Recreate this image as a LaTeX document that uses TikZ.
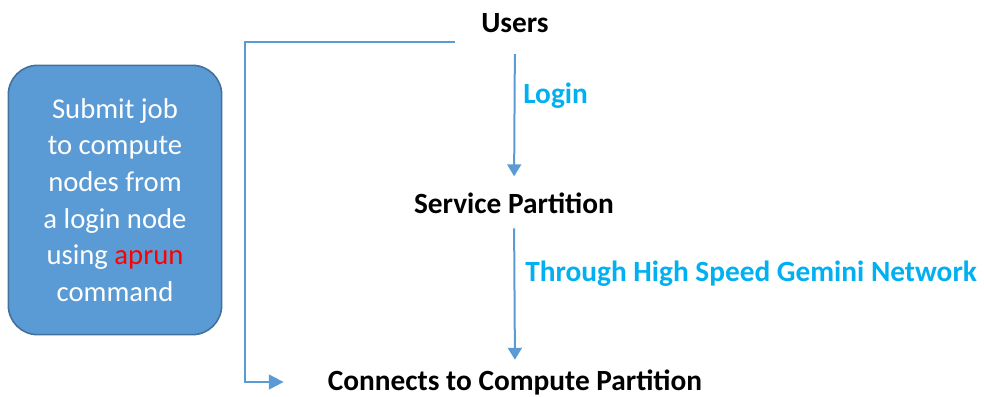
\documentclass[tikz,border=0pt]{standalone}
\usepackage{fontspec}
\setmainfont{Carlito}
\usetikzlibrary{arrows.meta,calc}
\definecolor{boxfill}{HTML}{5B9BD5}
\definecolor{boxline}{HTML}{41719C}
\definecolor{arrcol}{HTML}{5B9BD5}
\definecolor{lblcol}{HTML}{00B0F0}
\begin{document}
\begin{tikzpicture}[x=0.75pt,y=-0.75pt,
  arr/.style={draw=arrcol,line width=1.5pt,-{Triangle[length=9pt,width=10.5pt]}},
  elbow/.style={draw=arrcol,line width=1.5pt,-{Triangle[length=11pt,width=11pt]}},
  title/.style={font=\fontsize{22}{26}\selectfont\bfseries,inner sep=0pt,text=black},
  lbl/.style={font=\fontsize{22}{26}\selectfont\bfseries,inner sep=0pt,text=lblcol,anchor=west},
  bluebox/.style={draw=boxline,line width=1.2pt,fill=boxfill,rounded corners=22pt,
    minimum width=160pt,minimum height=202pt,align=center,text=white,
    font=\fontsize{21.5}{27.5}\selectfont}]
\useasboundingbox (0,0) rectangle (984,396);
\node[bluebox] (box) at (115,200) {Submit job\\to compute\\nodes from\\a login node\\using \textcolor{red}{aprun}\\command};
\node[title] (users) at (515,23) {Users};
\node[title] (service) at (514,203) {Service Partition};
\node[title] (compute) at (515,382) {Connects to Compute Partition};
\node[lbl] (login) at (523,96) {Login};
\node[lbl] (net) at (525,274) {Through High Speed Gemini Network};
\coordinate (elbowstart) at (455,42);
\draw[arr,shorten <=16pt,shorten >=12pt] (users.south) -- (service.north);
\draw[arr,shorten <=11pt,shorten >=7pt] (service.south) -- (compute.north);
\draw[elbow,shorten >=33pt] (elbowstart) -- (245,42) |- (compute.west);
\end{tikzpicture}
\end{document}
